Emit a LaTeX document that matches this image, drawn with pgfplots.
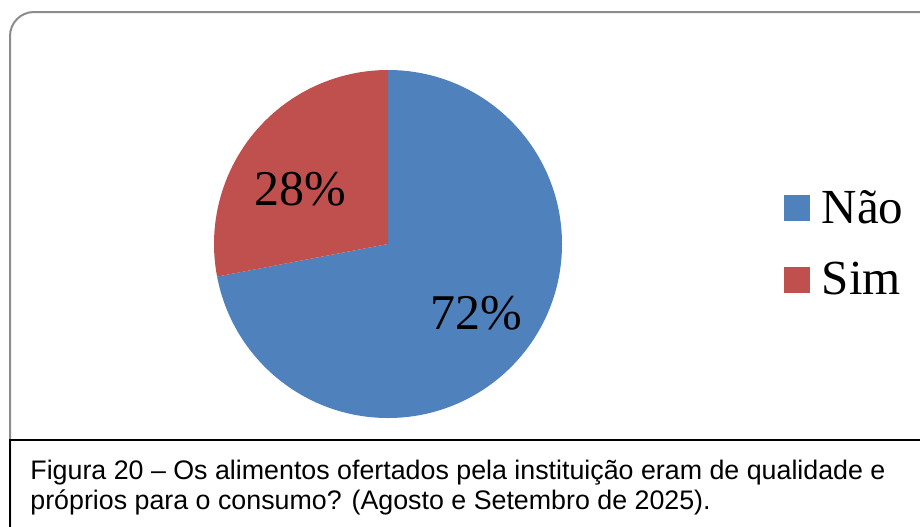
\documentclass[border=0pt]{standalone}
\usepackage{fontspec}
\setmainfont{Liberation Serif}
\newfontfamily\capfont{Liberation Sans}
\usepackage{pgfplots}
\usepackage{pgfplotstable}
\pgfplotsset{compat=1.18}
\definecolor{nao}{HTML}{4F81BD}
\definecolor{sim}{HTML}{C0504D}
\definecolor{frame}{HTML}{8C8C8C}

% share of answers (%)
\pgfplotstableread{
label value
Nao 72
Sim 28
}\piedata

\begin{document}
\begin{tikzpicture}
\useasboundingbox (0,0) rectangle (460pt,263pt);
\clip (0,0) rectangle (460pt,263pt);
\pgfplotstablegetelem{0}{value}\of\piedata \let\vNao\pgfplotsretval
\pgfplotstablegetelem{1}{value}\of\piedata \let\vSim\pgfplotsretval
\pgfmathsetmacro{\angA}{90-3.6*\vNao}
\pgfmathsetmacro{\angB}{\angA-3.6*\vSim}
\begin{axis}[
  x=0.5pt, y=0.5pt,
  xmin=0, xmax=920, ymin=0, ymax=526,
  anchor=origin, at={(0,0)},
  hide axis, clip=false,
  legend style={at={(axis cs:784,282)}, anchor=west, draw=none, fill=none,
    font=\fontsize{24.5}{30}\selectfont, row sep=14pt, inner sep=0pt,
    cells={anchor=west}},
  legend image code/.code={\fill[#1, draw=none] (0pt,-6.5pt) rectangle (13pt,6.5pt);
    \path (16.5pt,0pt);},
]
  % outer frame and caption box
  \draw[frame, line width=1pt, rounded corners=12pt]
    (axis cs:10,514) rectangle (axis cs:960,-40);
  \draw[black, line width=0.8pt] (axis cs:960,86) -- (axis cs:10,86) -- (axis cs:10,-20);
  % pie
  \fill[nao] (axis cs:388,282) -- ++(90:87pt) arc[start angle=90, end angle=\angA, radius=87pt] -- cycle;
  \fill[sim] (axis cs:388,282) -- ++(\angA:87pt) arc[start angle=\angA, end angle=\angB, radius=87pt] -- cycle;
  \node[font=\fontsize{25}{30}\selectfont] at (axis cs:300,337) {28\%};
  \node[font=\fontsize{25}{30}\selectfont] at (axis cs:476,213) {72\%};
  \addlegendimage{fill=nao}
  \addlegendentry{Não}
  \addlegendimage{fill=sim}
  \addlegendentry{Sim}
  \node[anchor=north west, align=left, font=\capfont\fontsize{13.4}{15}\selectfont, inner sep=0pt]
    at (axis cs:30,66) {Figura 20 – Os alimentos ofertados pela instituição eram de qualidade e\\próprios para o consumo? (Agosto e Setembro de 2025).};
\end{axis}
\end{tikzpicture}
\end{document}
